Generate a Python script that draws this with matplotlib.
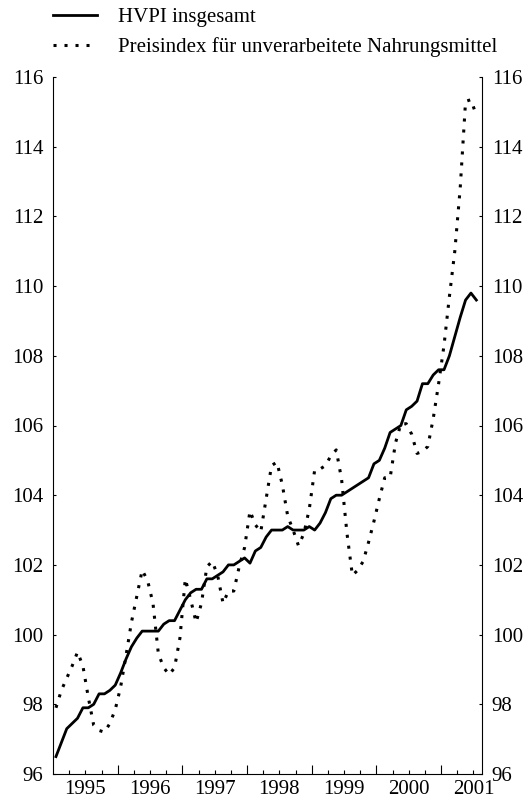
import matplotlib
matplotlib.use("Agg")
import matplotlib.pyplot as plt
from matplotlib.ticker import FixedLocator, FuncFormatter, NullFormatter

plt.rcParams['font.family'] = ['Liberation Serif', 'DejaVu Serif']

# monthly values, Jan 1995 .. Jul 2001
hvpi = [96.5, 96.9, 97.3, 97.45, 97.6, 97.9, 97.9, 98.0, 98.3, 98.3, 98.4, 98.55,
        98.9, 99.3, 99.65, 99.9, 100.1, 100.1, 100.1, 100.1, 100.3, 100.4, 100.4, 100.7,
        101.0, 101.2, 101.3, 101.3, 101.6, 101.6, 101.7, 101.8, 102.0, 102.0, 102.1, 102.2,
        102.05, 102.4, 102.5, 102.8, 103.0, 103.0, 103.0, 103.1, 103.0, 103.0, 103.0, 103.1,
        103.0, 103.2, 103.5, 103.9, 104.0, 104.0, 104.1, 104.2, 104.3, 104.4, 104.5, 104.9,
        105.0, 105.35, 105.8, 105.9, 106.0, 106.45, 106.55, 106.7, 107.2, 107.2, 107.45, 107.6,
        107.6, 108.0, 108.55, 109.1, 109.6, 109.8, 109.6]
nahrung = [97.9, 98.4, 98.75, 99.1, 99.5, 99.1, 98.2, 97.4, 97.25, 97.2, 97.45, 97.85,
           98.5, 99.4, 100.35, 101.1, 101.85, 101.55, 100.9, 99.45, 99.05, 98.85, 99.05, 99.9,
           101.6, 101.0, 100.35, 100.9, 101.95, 102.1, 101.7, 100.9, 101.25, 101.25, 101.95, 102.5,
           103.55, 103.15, 102.95, 103.9, 104.85, 104.95, 104.3, 103.4, 103.0, 102.55, 102.9, 103.6,
           104.72, 104.75, 104.85, 105.13, 105.3, 104.45, 102.9, 101.7, 101.85, 102.1, 102.65, 103.25,
           103.9, 104.5, 104.5, 105.5, 106.05, 106.05, 105.75, 105.2, 105.25, 105.4, 106.2, 107.2,
           108.3, 109.7, 111.0, 112.8, 115.3, 115.35, 114.9]
years = ['1995', '1996', '1997', '1998', '1999', '2000', '2001']
yticks = [96, 98, 100, 102, 104, 106, 108, 110, 112, 114, 116]

fs = 15
months = [i + 0.55 for i in range(len(hvpi))]

fig = plt.figure(figsize=(5.27, 7.98), dpi=100)
ax = fig.add_axes([53/527, 24/798, 429/527, 697/798])

l1, = ax.plot(months, hvpi, color='black', linewidth=2.0, linestyle='-', label='HVPI insgesamt')
l2, = ax.plot(months, nahrung, color='black', linewidth=2.2, linestyle=(0, (1, 2.6)),
              label='Preisindex für unverarbeitete Nahrungsmittel')

ax.set_xlim(0, 79.6)
ax.set_ylim(96, 116)

# jahresgrenzen lang, quartale kurz, jahreszahl in der mitte
ax.xaxis.set_major_locator(FixedLocator([12 * k for k in range(1, 7)]))
ax.xaxis.set_major_formatter(NullFormatter())
quarters = [3 * k for k in range(1, 27) if (3 * k) % 12 != 0]
ax.xaxis.set_minor_locator(FixedLocator(quarters))
ax.xaxis.set_minor_formatter(FuncFormatter(
    lambda v, p: years[int(v) // 12] if int(round(v)) % 12 == 6 else ''))

ax.set_yticks(yticks)
ax.set_yticklabels([str(v) for v in yticks])

ax.tick_params(axis='x', which='major', direction='in', length=6.5, width=0.8, bottom=True, top=False)
ax.tick_params(axis='x', which='minor', direction='in', length=3, width=0.8, labelsize=fs, pad=4)
ax.tick_params(axis='y', which='major', direction='in', length=2.5, width=0.8,
               left=True, right=True, labelleft=True, labelright=True, labelsize=fs, pad=7)

ax.spines['top'].set_visible(False)
for s in ['left', 'right', 'bottom']:
    ax.spines[s].set_linewidth(0.8)

fig.legend(handles=[l1, l2], loc='upper left', bbox_to_anchor=(53/527, 0.9905),
           frameon=False, fontsize=fs, handlelength=2.1, handletextpad=1.0,
           labelspacing=0.5, borderpad=0, borderaxespad=0)

plt.savefig("out.png", dpi=100)
